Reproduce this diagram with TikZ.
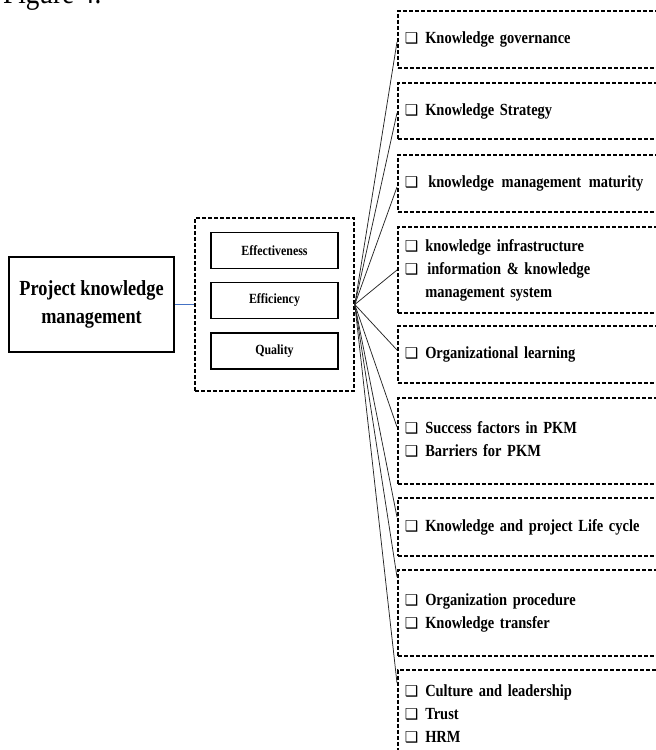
\documentclass[tikz,border=0pt]{standalone}
\usepackage{fontspec}
\setmainfont{Liberation Serif}[FakeStretch=0.85]
\newfontfamily\djv{DejaVu Sans}
\newcommand\cbx{{\djv\fontsize{15}{15}\selectfont ❑}}
\begin{document}
\begin{tikzpicture}[x=1pt,y=-1pt,
  rbox/.style={draw, line width=1.6pt, dash pattern=on 4pt off 2pt, anchor=north west,
    inner xsep=7pt, inner ysep=0pt, text width=262pt, align=left,
    font=\bfseries\fontsize{17}{23}\selectfont},
  dbox/.style={draw, line width=1.6pt, dash pattern=on 4pt off 2pt},
  ibox/.style={draw, line width=1.7pt, minimum width=127pt, minimum height=36pt,
    inner sep=0pt, font=\bfseries\fontsize{14}{16}\selectfont},
  lbox/.style={draw, line width=1.7pt, minimum width=165pt, minimum height=95pt,
    inner sep=0pt, align=center, font=\bfseries\fontsize{21.5}{28}\selectfont},
  fan/.style={line width=0.75pt, black!85},
  blueline/.style={line width=1pt, draw={rgb,255:red,68;green,114;blue,196}}]
\useasboundingbox (0,0) rectangle (656,750);
\clip (0,0) rectangle (656,750);

\node[anchor=base west, inner sep=0pt, font=\fontsize{32}{36}\selectfont] (fig) at (3,3) {Figure 4.};

\node[lbox] (pkm) at (91.5,304.5) {Project knowledge\\management};
\node[dbox, minimum width=159pt, minimum height=173pt, inner sep=0pt] (mid) at (274.5,304.5) {};
\node[ibox] (eff) at (274.5,250.5) {Effectiveness};
\node[ibox] (efc) at (274.5,300.5) {Efficiency};
\node[ibox] (qua) at (274.5,351) {Quality};

\newcommand\cbrows[1]{\begin{tabular}{@{}l@{\hspace{7pt}}l@{}}#1\end{tabular}}

\node[rbox, minimum height=57pt] (r1) at (397,10) {\cbrows{\cbx & Knowledge governance}};
\node[rbox, minimum height=56pt] (r2) at (397,82) {\cbrows{\cbx & Knowledge Strategy}};
\node[rbox, minimum height=57pt] (r3) at (397,154) {\cbrows{\cbx & \hspace{3pt}knowledge\hspace{2pt} management\hspace{2pt} maturity}};
\node[rbox, minimum height=86pt] (r4) at (397,226) {\cbrows{\cbx & knowledge infrastructure\\ \cbx & \hspace{2pt}information \& knowledge\\ & management system}};
\node[rbox, minimum height=57pt] (r5) at (397,325) {\cbrows{\cbx & Organizational learning}};
\node[rbox, minimum height=86pt] (r6) at (397,397) {\cbrows{\cbx & Success factors in PKM\\ \cbx & Barriers for PKM}};
\node[rbox, minimum height=58pt] (r7) at (397,497) {\cbrows{\cbx & Knowledge and project Life cycle}};
\node[rbox, minimum height=86pt] (r8) at (397,569) {\cbrows{\cbx & Organization procedure\\ \cbx & Knowledge transfer}};
\node[rbox, minimum height=90pt] (r9) at (397,669) {\cbrows{\cbx & Culture and leadership\\ \cbx & Trust\\ \cbx & HRM}};

\draw[blueline] (pkm.east) -- (mid.west);

\draw[fan] (mid.east) -- ([yshift=-32pt]r1.north west);
\draw[fan] (mid.east) -- ([yshift=-31pt]r2.north west);
\draw[fan] (mid.east) -- ([yshift=-33pt]r3.north west);
\draw[fan] (mid.east) -- ([yshift=-44pt]r4.north west);
\draw[fan] (mid.east) -- ([yshift=-25pt]r5.north west);
\draw[fan] (mid.east) -- ([yshift=-30pt]r6.north west);
\draw[fan] (mid.east) -- ([yshift=-20pt]r7.north west);
\draw[fan] (mid.east) -- ([yshift=-8pt]r8.north west);
\draw[fan] (mid.east) -- ([yshift=-14pt]r9.north west);
\end{tikzpicture}
\end{document}
